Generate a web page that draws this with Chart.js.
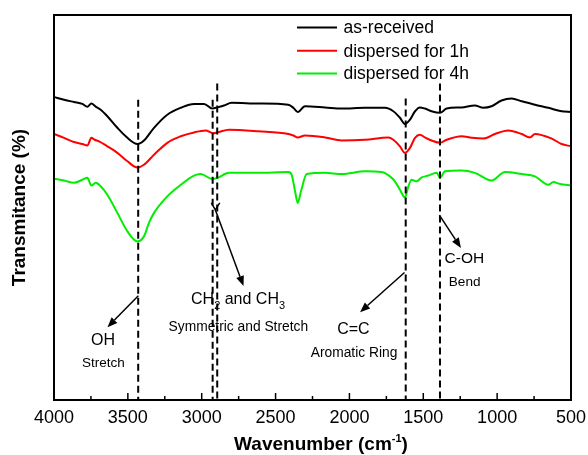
<!DOCTYPE html>
<html>
<head>
<meta charset="utf-8">
<script src="https://cdn.jsdelivr.net/npm/chart.js@4.4.1/dist/chart.umd.min.js"></script>
<style>
  html, body { margin: 0; padding: 0; background: #fff; }
  #ftir { display: block; }
</style>
</head>
<body>
<canvas id="ftir" width="588" height="455"></canvas>
<script>
// FTIR spectra, wavenumber (cm-1) vs transmittance (a.u.)
const seriesLabels = ["as-received", "dispersed for 1h", "dispersed for 4h"];

const blackWn = [4000, 3932, 3865, 3808, 3774, 3747, 3718, 3684, 3639, 3571, 3503, 3436, 3391, 3323, 3233, 3142, 3052, 2984, 2928, 2894, 2849, 2797, 2617, 2414, 2380, 2350, 2301, 2165, 2052, 1894, 1759, 1703, 1658, 1624, 1590, 1556, 1523, 1489, 1444, 1387, 1342, 1241, 1151, 1094, 1038, 970, 902, 834, 744, 654, 564, 500];
const blackT = [78.7, 78.0, 77.4, 76.9, 76.2, 77.0, 76.2, 75.4, 73.7, 70.7, 68.1, 66.5, 67.4, 70.7, 74.1, 75.9, 76.9, 76.9, 75.7, 76.0, 76.5, 77.2, 77.0, 76.7, 75.9, 74.8, 76.3, 76.0, 75.7, 75.9, 75.9, 75.0, 73.3, 71.7, 72.8, 75.0, 76.0, 75.7, 75.0, 74.6, 75.7, 76.0, 76.5, 75.9, 76.3, 77.8, 78.3, 77.6, 76.7, 75.9, 75.0, 74.8];

const redWn = [4000, 3932, 3865, 3808, 3774, 3747, 3725, 3695, 3639, 3571, 3503, 3436, 3391, 3323, 3233, 3142, 3052, 2973, 2921, 2894, 2815, 2617, 2414, 2380, 2350, 2301, 2165, 2052, 1894, 1737, 1703, 1658, 1624, 1590, 1556, 1523, 1489, 1444, 1387, 1342, 1241, 1172, 1094, 1015, 925, 834, 778, 744, 631, 564, 500];
const redT = [69.1, 68.1, 67.0, 66.5, 66.1, 68.1, 67.6, 67.2, 65.9, 64.2, 62.0, 60.4, 61.1, 63.7, 66.8, 68.5, 69.5, 70.0, 69.3, 69.5, 70.2, 69.8, 69.1, 68.7, 68.2, 68.7, 68.2, 67.4, 67.6, 68.2, 67.6, 65.9, 64.2, 65.5, 68.1, 68.9, 68.2, 67.4, 66.8, 67.6, 68.5, 68.1, 67.9, 69.1, 70.0, 69.1, 68.2, 69.1, 67.9, 66.5, 65.9];

const greenWn = [4000, 3932, 3865, 3808, 3774, 3747, 3718, 3684, 3639, 3571, 3503, 3436, 3391, 3357, 3323, 3233, 3142, 3052, 3007, 2928, 2894, 2815, 2617, 2414, 2391, 2368, 2350, 2328, 2289, 2165, 2052, 1894, 1782, 1714, 1692, 1658, 1624, 1601, 1579, 1545, 1511, 1466, 1409, 1387, 1353, 1241, 1151, 1038, 947, 834, 744, 654, 620, 574, 500];
const greenT = [57.5, 57.0, 56.4, 57.2, 57.7, 55.7, 56.4, 55.5, 53.3, 48.6, 43.8, 41.2, 42.5, 46.0, 48.6, 52.9, 55.9, 58.3, 58.7, 57.4, 57.7, 59.0, 59.0, 59.2, 58.5, 54.2, 51.2, 54.2, 58.7, 59.0, 58.7, 59.4, 59.2, 57.7, 56.8, 54.6, 52.6, 55.5, 57.2, 56.8, 57.8, 58.3, 59.0, 57.7, 59.4, 59.6, 59.0, 57.0, 59.2, 58.7, 58.1, 55.9, 56.6, 56.1, 55.7];

// band positions marked with dashed lines
const bandWn = [3430, 2926, 2895, 1619, 1387];

// x axis ticks
const xMin = 500;
const xMax = 4000;
const majorStep = 500;
const minorStep = 250;

const FONT = "'Liberation Sans', Arial, sans-serif";

// where the dashed lines start (top, in transmittance units)
const bandTops = [78.0, 78.0, 82.2, 78.3, 82.2];

// annotation arrows: [fromWn, fromT, toWn, toT]
const arrows = [
  [3429, 27.1, 3638, 18.9],
  [2908, 49.4, 2717, 29.6],
  [1627, 33.1, 1928, 22.8],
  [1391, 48.0, 1245, 39.5],
];

// annotation texts: [text, wn, T, size]
const notes = [
  ["OH", 3668, 15.4, 16],
  ["Stretch", 3666, 9.5, 13.5],
  ["Symmetric and Stretch", 2752, 18.9, 13.8],
  ["C=C", 1973, 18.3, 16],
  ["Aromatic Ring", 1969, 12.2, 13.8],
  ["C-OH", 1222, 36.7, 15.5],
  ["Bend", 1220, 30.6, 13.6],
];

function toPoints(xs, ys) {
  return xs.map((v, i) => ({ x: v, y: ys[i] }));
}

function drawArrow(ctx, x1, y1, x2, y2) {
  const ang = Math.atan2(y2 - y1, x2 - x1);
  const len = 10;
  const half = 4;
  const bx = x2 - len * Math.cos(ang);
  const by = y2 - len * Math.sin(ang);
  ctx.beginPath();
  ctx.moveTo(x1, y1);
  ctx.lineTo(bx, by);
  ctx.stroke();
  ctx.beginPath();
  ctx.moveTo(x2, y2);
  ctx.lineTo(bx + half * Math.sin(ang), by - half * Math.cos(ang));
  ctx.lineTo(bx - half * Math.sin(ang), by + half * Math.cos(ang));
  ctx.closePath();
  ctx.fill();
}

// draw a run of [text, size, dy] pieces centred on cx
function drawPieces(ctx, pieces, cx, cy, weight) {
  let total = 0;
  pieces.forEach((p) => {
    ctx.font = weight + " " + p[1] + "px " + FONT;
    total += ctx.measureText(p[0]).width;
  });
  let px = cx - total / 2;
  ctx.textAlign = "left";
  pieces.forEach((p) => {
    ctx.font = weight + " " + p[1] + "px " + FONT;
    ctx.fillText(p[0], px, cy + p[2]);
    px += ctx.measureText(p[0]).width;
  });
}

const decorPlugin = {
  id: "ftirDecor",
  afterDatasetsDraw(chart) {
    const ctx = chart.ctx;
    const a = chart.chartArea;
    const x = chart.scales.x;
    const y = chart.scales.y;
    ctx.save();
    ctx.strokeStyle = "#000";
    ctx.fillStyle = "#000";

    // dashed band lines
    ctx.lineWidth = 2;
    ctx.setLineDash([7, 4]);
    bandWn.forEach((wn, i) => {
      const px = x.getPixelForValue(wn);
      ctx.beginPath();
      ctx.moveTo(px, y.getPixelForValue(bandTops[i]));
      ctx.lineTo(px, a.bottom);
      ctx.stroke();
    });
    ctx.setLineDash([]);

    // arrows
    ctx.lineWidth = 1.5;
    arrows.forEach((r) => {
      drawArrow(ctx, x.getPixelForValue(r[0]), y.getPixelForValue(r[1]),
        x.getPixelForValue(r[2]), y.getPixelForValue(r[3]));
    });
    // small fork at the tail of the CH arrow
    ctx.beginPath();
    ctx.moveTo(x.getPixelForValue(2935), y.getPixelForValue(51.2));
    ctx.lineTo(x.getPixelForValue(2908), y.getPixelForValue(49.4));
    ctx.lineTo(x.getPixelForValue(2878), y.getPixelForValue(51.2));
    ctx.stroke();

    // annotation texts
    ctx.textBaseline = "middle";
    ctx.textAlign = "center";
    notes.forEach((n) => {
      ctx.font = n[3] + "px " + FONT;
      ctx.fillText(n[0], x.getPixelForValue(n[1]), y.getPixelForValue(n[2]));
    });
    drawPieces(ctx, [["CH", 16, 0], ["2", 11, 6], [" and CH", 16, 0], ["3", 11, 6]],
      x.getPixelForValue(2754), y.getPixelForValue(26.0), "normal");

    // inward x ticks
    ctx.lineWidth = 1.5;
    x.ticks.forEach((t) => {
      const px = x.getPixelForValue(t.value);
      const len = t.value % majorStep === 0 ? 7 : 4;
      ctx.beginPath();
      ctx.moveTo(px, a.bottom);
      ctx.lineTo(px, a.bottom - len);
      ctx.stroke();
    });

    // frame
    ctx.lineWidth = 2;
    ctx.strokeRect(a.left, a.top, a.right - a.left, a.bottom - a.top);

    // legend
    const legY = [27.4, 50.7, 73.6];
    ctx.textAlign = "left";
    ctx.font = "17.5px " + FONT;
    chart.data.datasets.forEach((ds, i) => {
      ctx.strokeStyle = ds.borderColor;
      ctx.lineWidth = 2;
      ctx.beginPath();
      ctx.moveTo(297, legY[i]);
      ctx.lineTo(337, legY[i]);
      ctx.stroke();
      ctx.fillStyle = "#000";
      ctx.fillText(ds.label, 343.5, legY[i] + 1);
    });

    // axis titles
    ctx.textBaseline = "alphabetic";
    drawPieces(ctx, [["Wavenumber (cm", 19, 0], ["-1", 11, -8], [")", 19, 0]],
      321, 450, "bold");
    ctx.translate(20, (a.top + a.bottom) / 2);
    ctx.rotate(-Math.PI / 2);
    ctx.textAlign = "center";
    ctx.textBaseline = "middle";
    ctx.font = "bold 19px " + FONT;
    ctx.fillText("Transmitance (%)", 0, 0);
    ctx.restore();
  },
};

new Chart(document.getElementById("ftir"), {
  type: "line",
  data: {
    datasets: [
      { label: seriesLabels[0], data: toPoints(blackWn, blackT), borderColor: "#000000" },
      { label: seriesLabels[1], data: toPoints(redWn, redT), borderColor: "#ff0000" },
      { label: seriesLabels[2], data: toPoints(greenWn, greenT), borderColor: "#00ee00" },
    ],
  },
  options: {
    responsive: false,
    devicePixelRatio: 1,
    animation: false,
    layout: { padding: { top: 15, right: 17, left: 0, bottom: 0 } },
    elements: {
      line: { borderWidth: 2, cubicInterpolationMode: "monotone" },
      point: { radius: 0 },
    },
    scales: {
      x: {
        type: "linear",
        reverse: true,
        min: xMin,
        max: xMax,
        afterFit: (s) => {
          s.height = 55;
          // edge labels fit inside the fixed margins
          s.paddingLeft = 0;
          s.paddingRight = 0;
        },
        border: { display: false },
        grid: { display: false, drawTicks: false },
        ticks: {
          stepSize: minorStep,
          autoSkip: false,
          maxRotation: 0,
          padding: 7,
          color: "#000",
          font: { family: FONT, size: 18 },
          callback: (v) => (v % majorStep === 0 ? String(v) : ""),
        },
      },
      y: {
        min: 0,
        max: 100,
        afterFit: (s) => { s.width = 54; },
        border: { display: false },
        grid: { display: false, drawTicks: false },
        ticks: { display: false },
      },
    },
    plugins: {
      legend: { display: false },
      tooltip: { enabled: false },
    },
  },
  plugins: [decorPlugin],
});
</script>
</body>
</html>
